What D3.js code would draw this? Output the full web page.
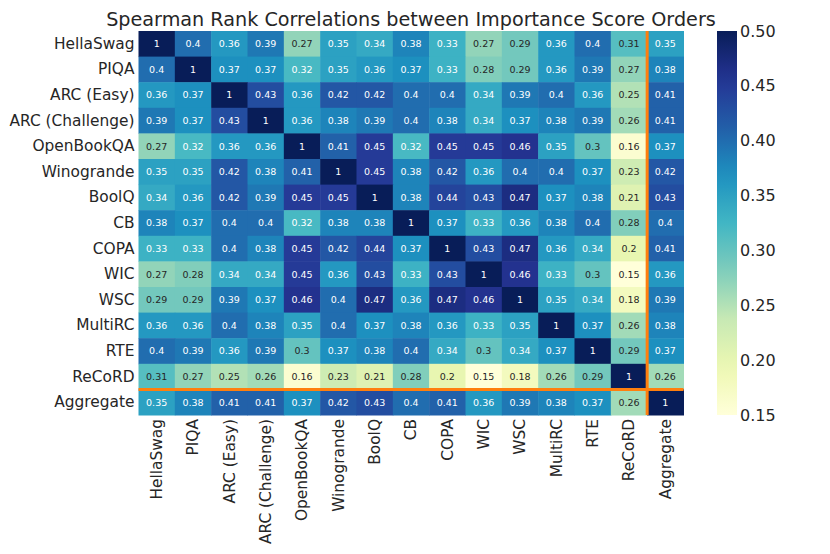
<!DOCTYPE html>
<html>
<head>
<meta charset="utf-8">
<script src="https://cdn.jsdelivr.net/npm/d3@7"></script>
<style>
  body { margin: 0; background: #fff; }
  text { font-family: "DejaVu Sans", sans-serif; fill: #262626; }
</style>
</head>
<body>
<div id="chart"></div>
<script>
var tasks = ["HellaSwag", "PIQA", "ARC (Easy)", "ARC (Challenge)", "OpenBookQA", "Winogrande",
             "BoolQ", "CB", "COPA", "WIC", "WSC", "MultiRC", "RTE", "ReCoRD", "Aggregate"];

// one row per task, same order as the columns
var corr = [
  [1, 0.4, 0.36, 0.39, 0.27, 0.35, 0.34, 0.38, 0.33, 0.27, 0.29, 0.36, 0.4, 0.31, 0.35],
  [0.4, 1, 0.37, 0.37, 0.32, 0.35, 0.36, 0.37, 0.33, 0.28, 0.29, 0.36, 0.39, 0.27, 0.38],
  [0.36, 0.37, 1, 0.43, 0.36, 0.42, 0.42, 0.4, 0.4, 0.34, 0.39, 0.4, 0.36, 0.25, 0.41],
  [0.39, 0.37, 0.43, 1, 0.36, 0.38, 0.39, 0.4, 0.38, 0.34, 0.37, 0.38, 0.39, 0.26, 0.41],
  [0.27, 0.32, 0.36, 0.36, 1, 0.41, 0.45, 0.32, 0.45, 0.45, 0.46, 0.35, 0.3, 0.16, 0.37],
  [0.35, 0.35, 0.42, 0.38, 0.41, 1, 0.45, 0.38, 0.42, 0.36, 0.4, 0.4, 0.37, 0.23, 0.42],
  [0.34, 0.36, 0.42, 0.39, 0.45, 0.45, 1, 0.38, 0.44, 0.43, 0.47, 0.37, 0.38, 0.21, 0.43],
  [0.38, 0.37, 0.4, 0.4, 0.32, 0.38, 0.38, 1, 0.37, 0.33, 0.36, 0.38, 0.4, 0.28, 0.4],
  [0.33, 0.33, 0.4, 0.38, 0.45, 0.42, 0.44, 0.37, 1, 0.43, 0.47, 0.36, 0.34, 0.2, 0.41],
  [0.27, 0.28, 0.34, 0.34, 0.45, 0.36, 0.43, 0.33, 0.43, 1, 0.46, 0.33, 0.3, 0.15, 0.36],
  [0.29, 0.29, 0.39, 0.37, 0.46, 0.4, 0.47, 0.36, 0.47, 0.46, 1, 0.35, 0.34, 0.18, 0.39],
  [0.36, 0.36, 0.4, 0.38, 0.35, 0.4, 0.37, 0.38, 0.36, 0.33, 0.35, 1, 0.37, 0.26, 0.38],
  [0.4, 0.39, 0.36, 0.39, 0.3, 0.37, 0.38, 0.4, 0.34, 0.3, 0.34, 0.37, 1, 0.29, 0.37],
  [0.31, 0.27, 0.25, 0.26, 0.16, 0.23, 0.21, 0.28, 0.2, 0.15, 0.18, 0.26, 0.29, 1, 0.26],
  [0.35, 0.38, 0.41, 0.41, 0.37, 0.42, 0.43, 0.4, 0.41, 0.36, 0.39, 0.38, 0.37, 0.26, 1]
];

var colorTicks = [0.15, 0.20, 0.25, 0.30, 0.35, 0.40, 0.45, 0.50];
var colorDomain = [0.15, 0.5];

var width = 830,
    height = 554,
    mapLeft = 138.5,
    mapTop = 31,
    mapW = 545,
    mapH = 384,
    barX = 717,
    barW = 20;

var ylgnbu = ["#ffffd9", "#edf8b1", "#c7e9b4", "#7fcdbb", "#41b6c4",
              "#1d91c0", "#225ea8", "#253494", "#081d58"];
var color = d3.scaleSequential(d3.piecewise(d3.interpolateRgb, ylgnbu))
              .domain(colorDomain).clamp(true);

// seaborn picks dark or white annotation text from the cell luminance
function luminance(c) {
  var rgb = d3.rgb(c);
  var ch = [rgb.r, rgb.g, rgb.b].map(function(v) {
    v = v / 255;
    return v <= 0.03928 ? v / 12.92 : Math.pow((v + 0.055) / 1.055, 2.4);
  });
  return 0.2126 * ch[0] + 0.7152 * ch[1] + 0.0722 * ch[2];
}

var svg = d3.select("#chart").append("svg")
            .attr("width", width)
            .attr("height", height);

var x = d3.scaleBand().domain(tasks).range([mapLeft, mapLeft + mapW]);
var y = d3.scaleBand().domain(tasks).range([mapTop, mapTop + mapH]);

var cells = [];
corr.forEach(function(row, i) {
  row.forEach(function(v, j) {
    cells.push({row: tasks[i], col: tasks[j], value: v});
  });
});

var g = svg.append("g");

g.selectAll("rect.cell")
  .data(cells)
  .enter().append("rect")
  .attr("class", "cell")
  .attr("x", function(d) { return x(d.col); })
  .attr("y", function(d) { return y(d.row); })
  .attr("width", x.bandwidth() + 0.5)
  .attr("height", y.bandwidth() + 0.5)
  .attr("fill", function(d) { return color(d.value); });

g.selectAll("text.annot")
  .data(cells)
  .enter().append("text")
  .attr("class", "annot")
  .attr("x", function(d) { return x(d.col) + x.bandwidth() / 2; })
  .attr("y", function(d) { return y(d.row) + y.bandwidth() / 2; })
  .attr("dy", "0.35em")
  .attr("text-anchor", "middle")
  .style("font-size", "9.5px")
  .style("fill", function(d) { return luminance(color(d.value)) > 0.408 ? "#262626" : "#ffffff"; })
  .text(function(d) { return d3.format("")(+d.value.toFixed(2)); });

// orange separators around the Aggregate row / column
var last = tasks[tasks.length - 1];
svg.append("line")
   .attr("x1", x(last)).attr("x2", x(last))
   .attr("y1", mapTop).attr("y2", mapTop + mapH)
   .attr("stroke", "#ff7f0e").attr("stroke-width", 3);
svg.append("line")
   .attr("x1", mapLeft).attr("x2", mapLeft + mapW)
   .attr("y1", y(last)).attr("y2", y(last))
   .attr("stroke", "#ff7f0e").attr("stroke-width", 3);

// row labels
svg.append("g")
   .attr("transform", "translate(" + mapLeft + ",0)")
   .call(d3.axisLeft(y).tickSize(0).tickPadding(4))
   .call(function(a) { a.select(".domain").remove(); })
   .selectAll("text")
   .style("font-size", "15.4px")
   .style("font-family", "DejaVu Sans")
   .attr("fill", "#262626");

// column labels, rotated
svg.append("g")
   .attr("transform", "translate(0," + (mapTop + mapH) + ")")
   .call(d3.axisBottom(x).tickSize(0).tickPadding(0))
   .call(function(a) { a.select(".domain").remove(); })
   .selectAll("text")
   .style("font-size", "15.4px")
   .style("font-family", "DejaVu Sans")
   .attr("fill", "#262626")
   .attr("text-anchor", "end")
   .attr("transform", "rotate(-90)")
   .attr("x", -4)
   .attr("y", 0)
   .attr("dy", "0.35em");

svg.append("text")
   .attr("x", mapLeft + mapW / 2)
   .attr("y", 26)
   .attr("text-anchor", "middle")
   .style("font-size", "19.2px")
   .text("Spearman Rank Correlations between Importance Score Orders");

// colour bar
var cb = d3.scaleLinear().domain(colorDomain).range([mapTop + mapH, mapTop]);
var defs = svg.append("defs");
var grad = defs.append("linearGradient")
   .attr("id", "cbar")
   .attr("x1", "0").attr("y1", "1").attr("x2", "0").attr("y2", "0");
d3.range(0, 1.0001, 0.05).forEach(function(t) {
  grad.append("stop")
      .attr("offset", t)
      .attr("stop-color", color(colorDomain[0] + t * (colorDomain[1] - colorDomain[0])));
});
svg.append("rect")
   .attr("x", barX).attr("y", mapTop)
   .attr("width", barW).attr("height", mapH)
   .attr("fill", "url(#cbar)");

svg.append("g")
   .attr("transform", "translate(" + (barX + barW) + ",0)")
   .call(d3.axisRight(cb).tickValues(colorTicks).tickFormat(d3.format(".2f")).tickSize(0).tickPadding(3))
   .call(function(a) { a.select(".domain").remove(); })
   .selectAll("text")
   .style("font-size", "16px")
   .style("font-family", "DejaVu Sans")
   .attr("fill", "#262626");
</script>
</body>
</html>
